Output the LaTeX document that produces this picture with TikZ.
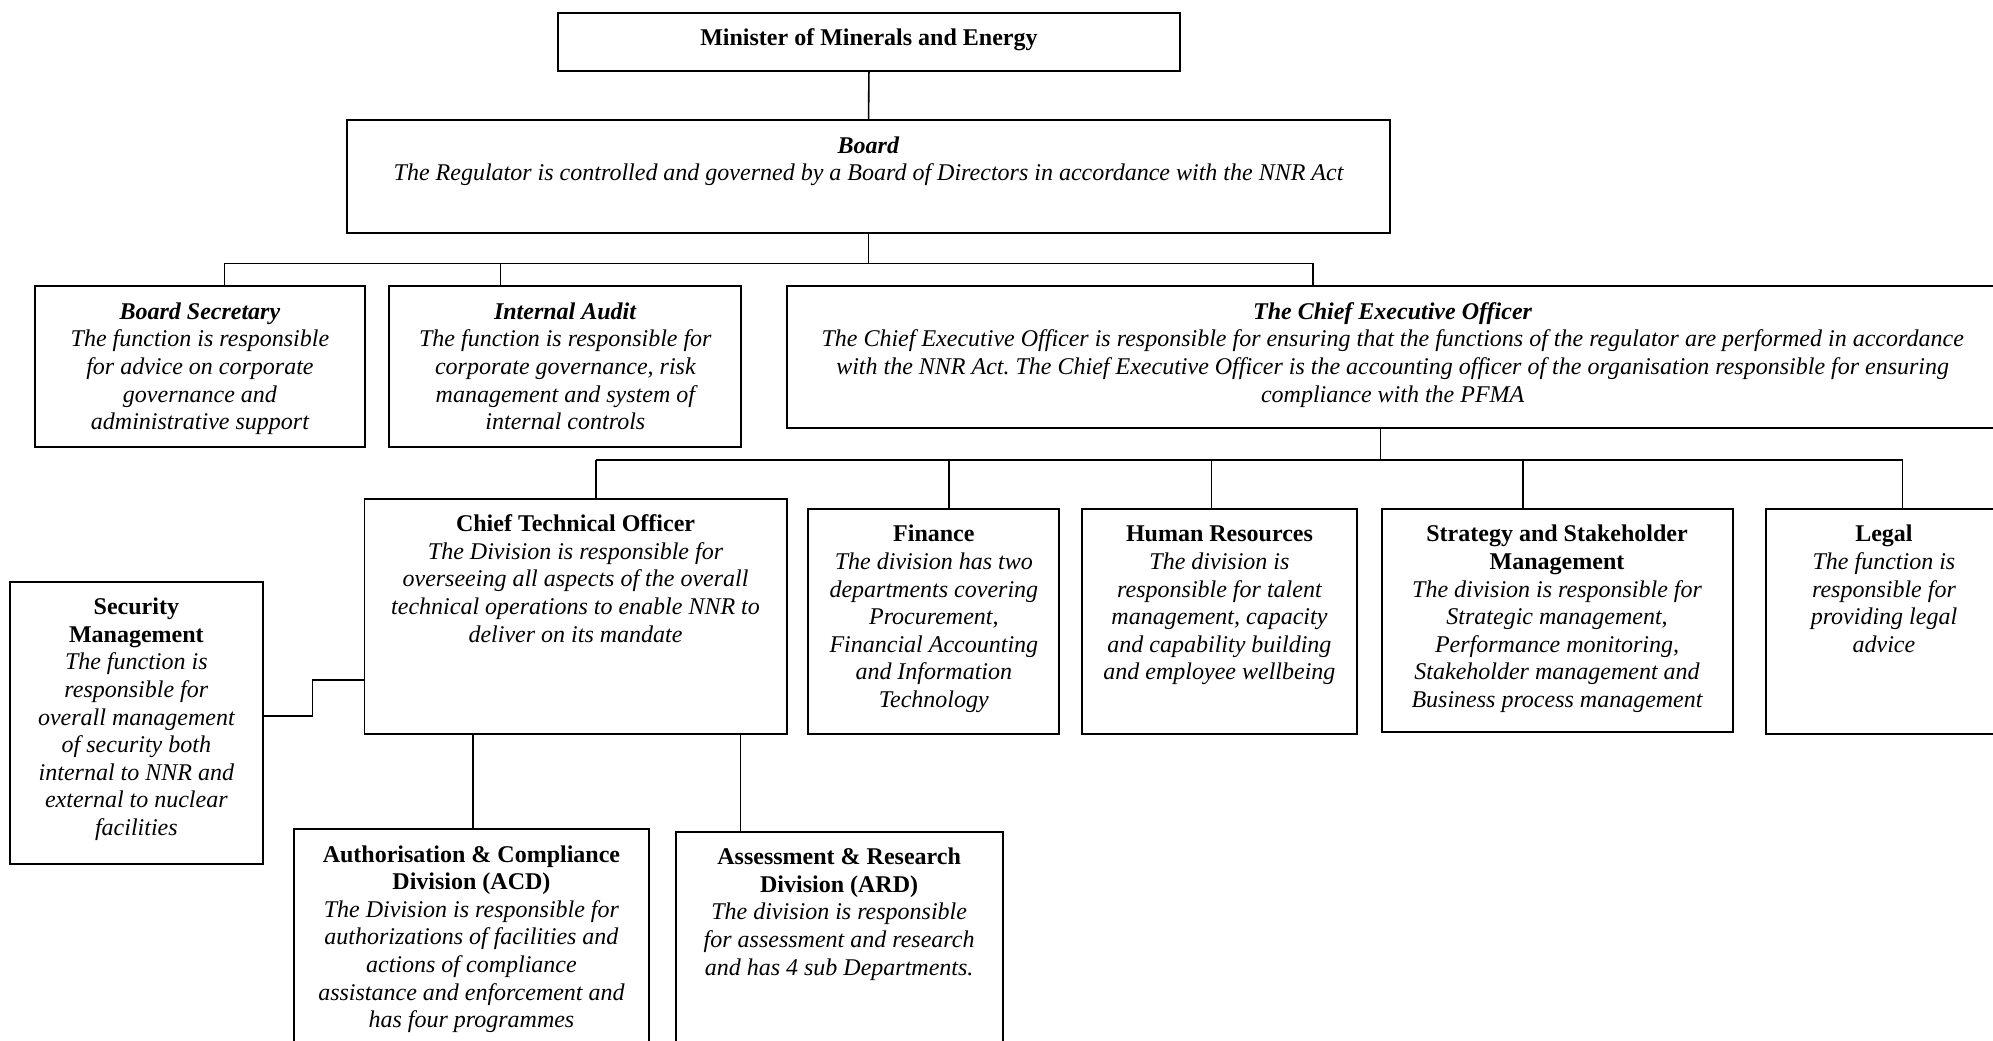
\documentclass[tikz,border=0pt]{standalone}
\usepackage{fontspec}
\setmainfont{Liberation Serif}
\frenchspacing
\newcommand{\bxt}[3]{\parbox[t][#2pt][t]{#1pt}{\centering\rule{0pt}{16.5pt}#3}}
\newcommand{\ttl}[1]{\textbf{\textit{#1}}}
\tikzset{
  orgbox/.style={draw, line width=0.95pt, inner sep=0pt, anchor=north west,
    font=\fontsize{12pt}{13.8pt}\selectfont},
  conn/.style={line width=0.8pt}
}
\begin{document}
\begin{tikzpicture}[x=0.5pt,y=-0.5pt]
\fill[white] (0,0) rectangle (1993,1040);
\useasboundingbox (0,0) rectangle (1993,1040);

\node[orgbox] (min) at (557,11.7) {\bxt{311}{29.2}{\textbf{Minister of Minerals and Energy}}};
\node[orgbox] (board) at (346.3,119.3) {\bxt{521.3}{56.2}{\ttl{Board}\\ \itshape The Regulator is controlled and governed by a Board of Directors in accordance with the NNR Act}};
\node[orgbox] (bs) at (34.4,285.3) {\bxt{164.6}{80.4}{\ttl{Board Secretary}\\ \itshape The function is responsible\\ for advice on corporate\\ governance and\\ administrative support}};
\node[orgbox] (ia) at (388.4,285.3) {\bxt{176}{80.4}{\ttl{Internal Audit}\\ \itshape The function is responsible for\\ corporate governance, risk\\ management and system of\\ internal controls}};
\node[orgbox] (ceo) at (785.7,285.3) {\bxt{606}{70.7}{\ttl{The Chief Executive Officer}\\ \itshape The Chief Executive Officer is responsible for ensuring that the functions of the regulator are performed in accordance\\ with the NNR Act. The Chief Executive Officer is the accounting officer of the organisation responsible for ensuring\\ compliance with the PFMA}};
\node[orgbox] (cto) at (363.5,497.8) {\bxt{211.1}{117.5}{\textbf{Chief Technical Officer}\\ \itshape The Division is responsible for\\ overseeing all aspects of the overall\\ technical operations to enable NNR to\\ deliver on its mandate}};
\node[orgbox] (fin) at (807.4,508) {\bxt{125.5}{112.4}{\textbf{Finance}\\ \itshape The division has two\\ departments covering\\ Procurement,\\ Financial Accounting\\ and Information\\ Technology}};
\node[orgbox] (hr) at (1081,508) {\bxt{137.5}{112.4}{\textbf{Human Resources}\\ \itshape The division is\\ responsible for talent\\ management, capacity\\ and capability building\\ and employee wellbeing}};
\node[orgbox] (ssm) at (1380.6,508) {\bxt{175.5}{111.4}{\textbf{Strategy and Stakeholder}\\ \textbf{Management}\\ \itshape The division is responsible for\\ Strategic management,\\ Performance monitoring,\\ Stakeholder management and\\ Business process management}};
\node[orgbox] (legal) at (1765,508) {\bxt{118}{112.4}{\textbf{Legal}\\ \itshape The function is\\ responsible for\\ providing legal\\ advice}};
\node[orgbox] (sec) at (8.9,580.8) {\bxt{126.5}{140.9}{\textbf{Security}\\ \textbf{Management}\\ \itshape The function is\\ responsible for\\ overall management\\ of security both\\ internal to NNR and\\ external to nuclear\\ facilities}};
\node[orgbox] (acd) at (293,828.2) {\bxt{177.5}{109}{\textbf{Authorisation \& Compliance}\\ \textbf{Division (ACD)}\\ \itshape The Division is responsible for\\ authorizations of facilities and\\ actions of compliance\\ assistance and enforcement and\\ has four programmes}};
\node[orgbox] (ard) at (674.7,830.7) {\bxt{163.5}{107.5}{\textbf{Assessment \& Research}\\ \textbf{Division (ARD)}\\ \itshape The division is responsible\\ for assessment and research\\ and has 4 sub Departments.}};

% connectors
\draw[conn] (min.south) -- (board.north);
\coordinate (j0) at (867.6,263.3);
\coordinate (jbs) at (224.5,263.3);
\coordinate (jia) at (500.6,263.3);
\coordinate (jceo) at (1312.9,263.3);
\draw[conn] (board.south) -- (board.south |- j0);
\draw[conn] (jbs) -- (jceo);
\draw[conn] (jbs) -- (jbs |- bs.north);
\draw[conn] (jia) -- (jia |- ia.north);
\draw[conn] (jceo) -- (jceo |- ceo.north);

\coordinate (jc) at (1380.6,460);
\coordinate (jcto) at (596,460);
\coordinate (jfin) at (949,460);
\coordinate (jhr) at (1211.5,460);
\coordinate (jssm) at (1523,460);
\coordinate (jleg) at (1902.5,460);
\draw[conn] (jc |- ceo.south) -- (jc);
\draw[conn] (jcto) -- (jleg);
\draw[conn] (jcto) -- (jcto |- cto.north);
\draw[conn] (jfin) -- (jfin |- fin.north);
\draw[conn] (jhr) -- (jhr |- hr.north);
\draw[conn] (jssm) -- (jssm |- ssm.north);
\draw[conn] (jleg) -- (jleg |- legal.north);

\coordinate (s1) at (312.5,716);
\coordinate (s2) at (312.5,680);
\draw[conn] (s1 -| sec.east) -- (s1) -- (s2) -- (s2 -| cto.west);

\coordinate (a1) at (472.7,780);
\coordinate (a2) at (740.4,780);
\draw[conn] (a1 |- cto.south) -- (a1 |- acd.north);
\draw[conn] (a2 |- cto.south) -- (a2 |- ard.north);
\end{tikzpicture}
\end{document}
